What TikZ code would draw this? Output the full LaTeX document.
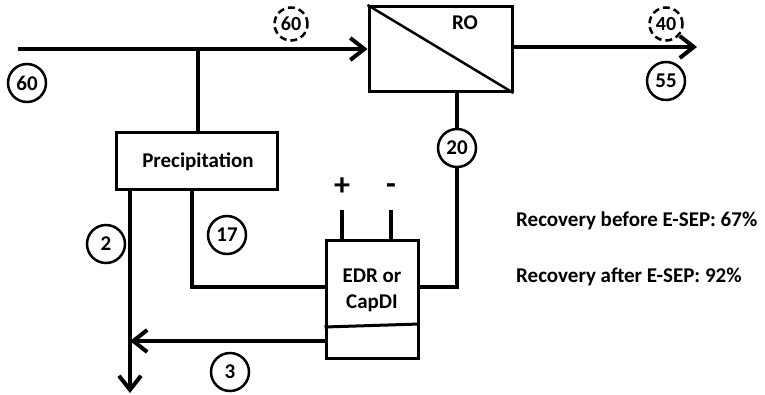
\documentclass[tikz,border=0pt]{standalone}
\usepackage{fontspec}
\setmainfont{Carlito}
\usetikzlibrary{arrows.meta,calc}
\tikzset{
  flow/.style={line width=4pt},
  box/.style={draw,line width=3pt,rectangle,inner sep=0pt},
  num/.style={draw,circle,line width=2.5pt,minimum size=38pt,inner sep=0pt,font=\fontsize{21}{21}\selectfont\bfseries},
  dnum/.style={draw,circle,line width=2.5pt,dash pattern=on 7pt off 4pt,minimum size=33pt,inner sep=0pt,font=\fontsize{20}{20}\selectfont\bfseries},
  lbl/.style={font=\fontsize{21}{25}\selectfont\bfseries,inner sep=0pt},
  sign/.style={font=\fontsize{32}{32}\selectfont\bfseries,inner sep=0pt},
  tip/.style={-{Straight Barb[length=14pt,width=22pt,line width=4pt]}}
}
\begin{document}
\begin{tikzpicture}[x=1pt,y=-1pt]
\useasboundingbox (0,0) rectangle (765,394);
% nodes
\node[box,minimum width=143pt,minimum height=85pt] (ro) at (440.5,49) {};
\node[lbl] (rotext) at (465,23) {RO};
\node[box,minimum width=161pt,minimum height=57pt] (precip) at (196.5,160.5) {};
\node[lbl] (ptext) at (198,162) {Precipitation};
\node[box,minimum width=92pt,minimum height=118pt] (edr) at (372,299) {};
\node[lbl,align=center] (etext) at (372,290) {EDR or\\[1pt]CapDI};
\node[num] (c60) at (27,83) {60};
\node[dnum] (c60d) at (291,24) {60};
\node[dnum] (c40) at (666,24) {40};
\node[num] (c55) at (666,81) {55};
\node[num] (c20) at (457,148) {20};
\node[num] (c17) at (227,235) {17};
\node[num] (c2) at (106,244) {2};
\node[num] (c3) at (230,372) {3};
\node[sign] (plus) at (342,187) {+};
\node[sign] (minus) at (391,189) {-};
\node[lbl,anchor=west] (rec1) at (516,221) {Recovery before E-SEP: 67\%};
\node[lbl,anchor=west] (rec2) at (516,277) {Recovery after E-SEP: 92\%};
% coordinates
\coordinate (in) at (18,49);
\coordinate (out) at (697,47);
\coordinate (j) at (198,49);
\coordinate (waste) at (130,393);
\coordinate (k1) at (192,287);
\coordinate (k2) at (130,341);
\coordinate (ep) at (342,210);
\coordinate (en) at (391,210);
% connectors
\draw[flow,tip] (in) -- (ro.west);
\draw[flow,tip] (ro.east |- out) -- (out);
\draw[line width=2.5pt] (ro.north west) -- (ro.south east);
\draw[flow] (j) -- (precip.north -| j);
\draw[flow,tip] (precip.south -| waste) -- (waste);
\draw[flow] (precip.south -| k1) |- (edr.west |- k1);
\draw[flow] (ro.south -| c20) -- (c20.north);
\draw[flow] (c20.south) |- (edr.east |- k1);
\draw[flow,tip] (edr.west |- k2) -- (k2);
\draw[flow] (ep) -- (ep |- edr.north);
\draw[flow] (en) -- (en |- edr.north);
\draw[line width=3pt] ([yshift=-28pt]edr.west) -- ([yshift=-25pt]edr.east);
\end{tikzpicture}
\end{document}
